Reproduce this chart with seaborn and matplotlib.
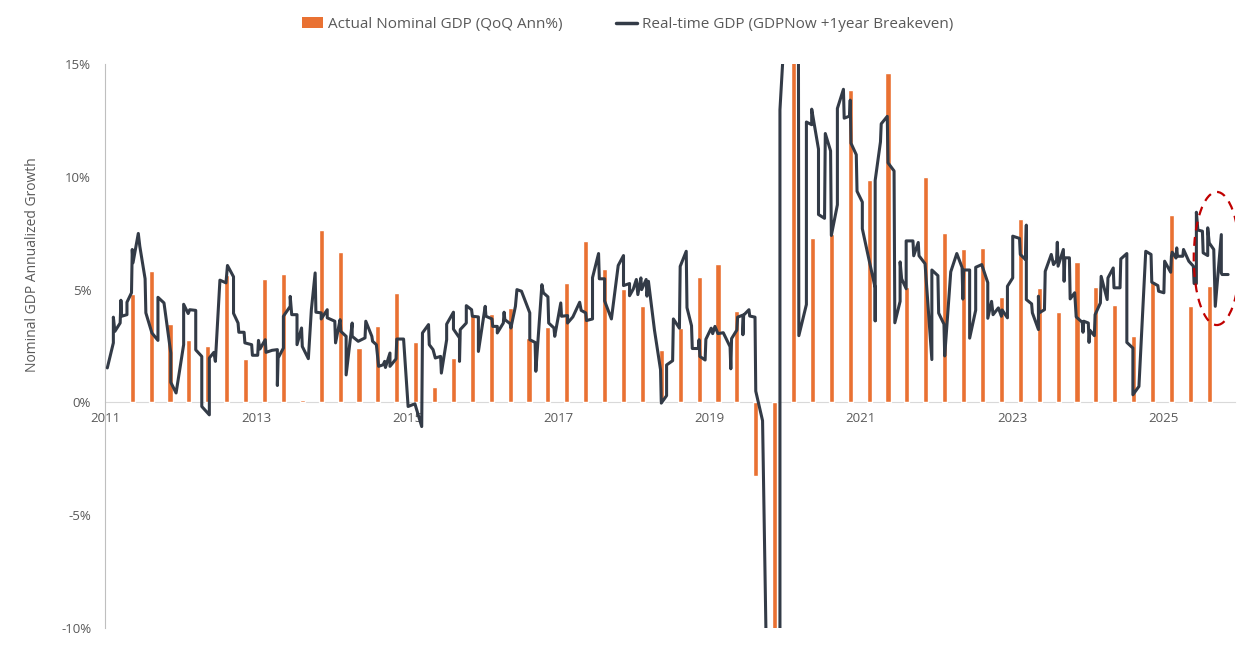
import numpy as np
import pandas as pd
import matplotlib
matplotlib.use("Agg")
import matplotlib.pyplot as plt
from matplotlib.patches import Patch, Ellipse
from matplotlib.lines import Line2D
import seaborn as sns

# quarterly actual nominal GDP, QoQ annualized %, 2011Q1 .. 2025Q2
quarters = [str(p) for p in pd.period_range("2011Q1", "2025Q2", freq="Q")]
actual_gdp = [4.8, 5.84, 3.49, 2.78, 2.49, 5.67, 1.94, 5.49, 5.71, 0.12,
              7.66, 6.69, 2.4, 3.40, 4.85, 2.69, 0.68, 1.98, 3.9, 3.93,
              4.2, 2.85, 3.33, 5.31, 7.17, 5.93, 5.04, 4.29, 2.34, 3.3,
              5.58, 6.15, 4.06, -3.26, -28.0, 38.0, 7.27, 7.48, 13.85, 9.84,
              14.59, 5.1, 10.0, 7.53, 6.78, 6.83, 4.69, 8.15, 5.09, 4.02,
              6.24, 5.10, 4.30, 2.93, 5.37, 8.30, 4.26, 5.15]
# bars sit at the release date, about five weeks after quarter end
bar_t = 2011.36 + 0.25 * np.arange(len(quarters))

# real-time GDP (GDPNow + 1y breakeven), date as decimal year
line_t = [2011.03, 2011.11, 2011.11, 2011.13, 2011.20, 2011.21, 2011.22, 2011.29, 2011.29, 2011.35,
          2011.36, 2011.37, 2011.44, 2011.46, 2011.53, 2011.54, 2011.62, 2011.70, 2011.70, 2011.78,
          2011.87, 2011.87, 2011.94, 2012.04, 2012.04, 2012.10, 2012.12, 2012.20, 2012.20, 2012.28,
          2012.28, 2012.38, 2012.38, 2012.44, 2012.46, 2012.52, 2012.60, 2012.62, 2012.70, 2012.70,
          2012.76, 2012.77, 2012.84, 2012.85, 2012.94, 2012.95, 2013.02, 2013.03, 2013.05, 2013.12,
          2013.13, 2013.21, 2013.28, 2013.28, 2013.29, 2013.36, 2013.36, 2013.45, 2013.45, 2013.47,
          2013.54, 2013.54, 2013.60, 2013.61, 2013.69, 2013.73, 2013.78, 2013.79, 2013.86, 2013.86,
          2013.94, 2013.94, 2014.04, 2014.05, 2014.11, 2014.12, 2014.19, 2014.19, 2014.27, 2014.27,
          2014.35, 2014.44, 2014.45, 2014.53, 2014.54, 2014.59, 2014.62, 2014.68, 2014.70, 2014.71,
          2014.77, 2014.77, 2014.85, 2014.86, 2014.95, 2015.01, 2015.10, 2015.19, 2015.20, 2015.28,
          2015.29, 2015.34, 2015.37, 2015.44, 2015.45, 2015.52, 2015.52, 2015.61, 2015.61, 2015.69,
          2015.69, 2015.70, 2015.78, 2015.78, 2015.85, 2015.86, 2015.94, 2015.94, 2016.03, 2016.04,
          2016.12, 2016.13, 2016.19, 2016.19, 2016.27, 2016.28, 2016.29, 2016.36, 2016.37, 2016.43,
          2016.45, 2016.51, 2016.62, 2016.62, 2016.69, 2016.70, 2016.78, 2016.80, 2016.86, 2016.87,
          2016.94, 2016.95, 2017.03, 2017.04, 2017.12, 2017.12, 2017.19, 2017.28, 2017.30, 2017.36,
          2017.37, 2017.45, 2017.45, 2017.53, 2017.54, 2017.61, 2017.61, 2017.70, 2017.79, 2017.86,
          2017.86, 2017.94, 2017.94, 2017.99, 2018.03, 2018.05, 2018.09, 2018.10, 2018.16, 2018.17,
          2018.19, 2018.27, 2018.35, 2018.36, 2018.43, 2018.43, 2018.51, 2018.52, 2018.60, 2018.61,
          2018.69, 2018.70, 2018.76, 2018.77, 2018.85, 2018.86, 2018.87, 2018.94, 2018.95, 2019.02,
          2019.04, 2019.07, 2019.11, 2019.18, 2019.27, 2019.28, 2019.29, 2019.36, 2019.37, 2019.44,
          2019.44, 2019.45, 2019.52, 2019.53, 2019.60, 2019.61, 2019.70, 2019.84, 2019.93, 2019.93,
          2020.17, 2020.18, 2020.28, 2020.28, 2020.35, 2020.35, 2020.44, 2020.44, 2020.52, 2020.53,
          2020.60, 2020.61, 2020.69, 2020.69, 2020.77, 2020.78, 2020.85, 2020.86, 2020.87, 2020.94,
          2020.95, 2021.02, 2021.02, 2021.11, 2021.19, 2021.19, 2021.19, 2021.26, 2021.27, 2021.35,
          2021.36, 2021.44, 2021.45, 2021.52, 2021.52, 2021.54, 2021.60, 2021.60, 2021.69, 2021.70,
          2021.76, 2021.77, 2021.85, 2021.94, 2021.94, 2022.02, 2022.03, 2022.10, 2022.11, 2022.19,
          2022.27, 2022.34, 2022.35, 2022.36, 2022.44, 2022.44, 2022.52, 2022.52, 2022.60, 2022.68,
          2022.68, 2022.73, 2022.75, 2022.82, 2022.86, 2022.87, 2022.94, 2022.94, 2023.01, 2023.01,
          2023.10, 2023.11, 2023.18, 2023.19, 2023.19, 2023.26, 2023.27, 2023.35, 2023.35, 2023.36,
          2023.43, 2023.44, 2023.52, 2023.55, 2023.59, 2023.60, 2023.61, 2023.68, 2023.69, 2023.70,
          2023.76, 2023.77, 2023.83, 2023.85, 2023.93, 2023.94, 2023.95, 2024.01, 2024.02, 2024.03,
          2024.09, 2024.10, 2024.17, 2024.18, 2024.26, 2024.27, 2024.34, 2024.35, 2024.43, 2024.44,
          2024.52, 2024.52, 2024.60, 2024.60, 2024.68, 2024.77, 2024.84, 2024.85, 2024.93, 2024.94,
          2025.01, 2025.02, 2025.10, 2025.11, 2025.12, 2025.17, 2025.18, 2025.19, 2025.26, 2025.27,
          2025.34, 2025.40, 2025.41, 2025.44, 2025.44, 2025.46, 2025.52, 2025.53, 2025.59, 2025.59,
          2025.61, 2025.67, 2025.69, 2025.77, 2025.77, 2025.78, 2025.86]
line_v = [1.53, 2.64, 3.78, 3.15, 3.52, 4.53, 3.82, 3.89, 4.44, 4.86,
          6.78, 6.19, 7.49, 6.92, 5.48, 3.97, 3.08, 2.75, 4.66, 4.41,
          2.19, 0.89, 0.42, 2.56, 4.35, 3.94, 4.11, 4.08, 2.33, 2.04,
          -0.18, -0.55, 1.97, 2.22, 1.82, 5.42, 5.30, 6.07, 5.57, 3.95,
          3.52, 3.11, 3.11, 2.64, 2.56, 2.09, 2.09, 2.75, 2.37, 2.78,
          2.22, 2.31, 2.34, 0.75, 1.97, 2.41, 3.82, 4.26, 4.70, 3.89,
          3.89, 2.56, 3.30, 2.48, 1.94, 4.11, 5.74, 4.00, 3.97, 3.70,
          4.11, 3.75, 3.60, 2.64, 3.67, 3.15, 2.93, 1.22, 3.52, 2.93,
          2.71, 2.86, 3.60, 2.93, 2.71, 2.56, 1.60, 1.67, 1.82, 1.55,
          2.19, 1.60, 1.93, 2.81, 2.81, -0.18, -0.06, -1.07, 3.08, 3.45,
          2.56, 2.34, 1.97, 2.04, 1.30, 2.78, 3.47, 4.00, 3.25, 2.86,
          1.82, 3.23, 3.52, 4.29, 4.11, 3.82, 3.79, 2.26, 4.26, 3.82,
          3.70, 3.37, 3.37, 3.08, 3.52, 4.00, 3.67, 3.49, 3.30, 4.26,
          5.00, 4.93, 3.97, 2.78, 2.66, 1.38, 5.22, 4.86, 4.68, 3.52,
          3.30, 2.93, 4.41, 3.82, 3.85, 3.52, 3.79, 4.44, 4.08, 3.97,
          3.63, 3.70, 5.53, 6.60, 5.48, 5.48, 4.50, 3.70, 6.07, 6.51,
          5.18, 5.27, 4.73, 5.03, 5.45, 4.78, 5.52, 5.00, 5.45, 4.71,
          5.37, 3.20, 1.45, -0.03, 0.30, 1.66, 1.85, 3.70, 3.29, 6.03,
          6.70, 4.20, 3.40, 2.39, 2.39, 2.78, 2.04, 1.88, 2.80, 3.29,
          3.05, 3.37, 3.05, 3.09, 2.47, 1.49, 2.83, 3.21, 3.78, 3.87,
          3.00, 3.87, 4.11, 3.83, 3.78, 0.50, -0.81, -30.0, -30.0, 12.97,
          27.0, 2.96, 4.34, 12.43, 12.31, 13.00, 11.23, 8.33, 8.16, 11.92,
          11.15, 7.40, 8.76, 13.03, 13.88, 12.60, 12.69, 13.40, 11.49, 10.98,
          9.36, 8.88, 7.70, 6.30, 5.08, 3.62, 9.84, 11.55, 12.35, 12.68,
          10.62, 10.26, 3.53, 4.48, 6.23, 5.48, 5.04, 7.16, 7.16, 6.50,
          7.09, 6.50, 6.15, 1.90, 5.87, 5.62, 3.96, 3.47, 2.06, 5.79,
          6.60, 5.98, 4.58, 5.87, 5.87, 2.85, 4.09, 5.99, 6.11, 5.31,
          3.73, 4.48, 3.89, 4.19, 3.82, 4.10, 3.75, 5.15, 5.52, 7.37,
          7.27, 6.56, 6.33, 7.86, 4.56, 4.37, 3.97, 3.23, 4.71, 3.97,
          4.11, 5.81, 6.56, 6.11, 6.30, 7.10, 6.04, 6.78, 5.37, 6.41,
          6.41, 4.59, 4.86, 3.79, 3.55, 3.11, 3.60, 3.52, 2.66, 3.20,
          2.96, 3.89, 4.41, 5.59, 4.56, 5.52, 5.96, 5.08, 5.08, 6.36,
          6.60, 2.66, 2.41, 0.34, 0.71, 6.70, 6.56, 5.33, 5.18, 4.93,
          4.86, 6.26, 5.77, 6.48, 6.66, 6.40, 6.85, 6.48, 6.48, 6.78,
          6.26, 6.04, 5.27, 5.27, 8.43, 7.64, 7.59, 6.63, 6.51, 7.74,
          7.07, 6.78, 4.26, 7.44, 5.74, 5.67, 5.67]

year_ticks = [2011, 2013, 2015, 2017, 2019, 2021, 2023, 2025]
pct_ticks = [-10, -5, 0, 5, 10, 15]

bar_color = "#E97132"
line_color = "#333B47"
text_color = "#595959"

sns.set_style("white")
plt.rcParams["font.family"] = ["Open Sans", "DejaVu Sans"]

fig = plt.figure(figsize=(12.55, 6.5), dpi=100)
ax = fig.add_axes([0.0837, 0.0338, 0.9003, 0.8677])

sns.barplot(x=bar_t, y=actual_gdp, native_scale=True, width=0.27, color=bar_color,
            saturation=1, errorbar=None, ax=ax, zorder=2)
sns.lineplot(x=line_t, y=line_v, sort=False, estimator=None, color=line_color,
             linewidth=2.2, solid_joinstyle="round", ax=ax, zorder=3)

# highlight of the latest readings
ax.add_patch(Ellipse((2025.71, 6.38), 0.61, 5.9, fill=False, edgecolor="#C00000",
                     linestyle=(0, (4, 3)), linewidth=1.6, zorder=4))

ax.set_xlim(2011.0, 2025.95)
ax.set_ylim(-10, 15)
ax.set_xticks(year_ticks)
ax.set_xticklabels([str(y) for y in year_ticks])
ax.set_yticks(pct_ticks)
ax.set_yticklabels([f"{v}%" for v in pct_ticks])
ax.tick_params(axis="both", length=0, labelsize=9.5, colors=text_color)
ax.tick_params(axis="y", pad=10)
ax.tick_params(axis="x", pad=7)

ax.spines["top"].set_visible(False)
ax.spines["right"].set_visible(False)
ax.spines["bottom"].set_position(("data", 0))
ax.spines["bottom"].set_color("#D9D9D9")
ax.spines["left"].set_color("#BFBFBF")
ax.spines["bottom"].set_zorder(1)

ax.set_xlabel("")
ax.set_ylabel("Nominal GDP Annualized Growth", fontsize=10, color=text_color)
ax.yaxis.set_label_coords(-0.058, 0.644)

handles = [Patch(facecolor=bar_color, edgecolor="none"),
           Line2D([0], [0], color=line_color, linewidth=2.5)]
fig.legend(handles, ["Actual Nominal GDP (QoQ Ann%)", "Real-time GDP (GDPNow +1year Breakeven)"],
           loc="upper center", bbox_to_anchor=(0.5, 0.995), ncol=2, frameon=False,
           fontsize=11, labelcolor=text_color, handlelength=1.4, handletextpad=0.3,
           columnspacing=3.5)

fig.savefig("out.png", dpi=100)
